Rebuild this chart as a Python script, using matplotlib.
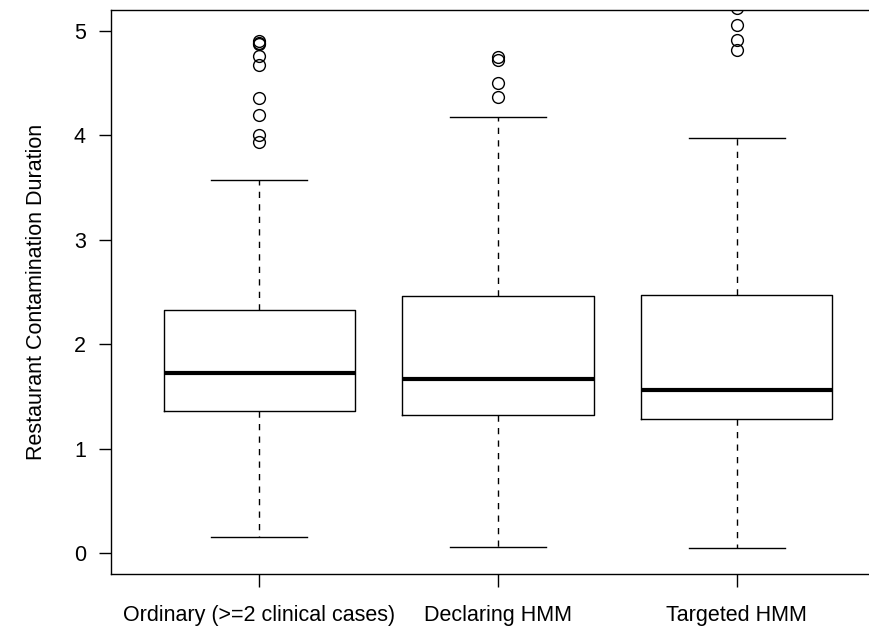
import matplotlib
matplotlib.use("Agg")
import matplotlib.pyplot as plt

plt.rcParams['font.family'] = ['Liberation Sans', 'DejaVu Sans']

groups = ["Ordinary (>=2 clinical cases)", "Declaring HMM", "Targeted HMM"]

# five-number summaries per group
whisker_lo = [0.15, 0.06, 0.05]
q1 = [1.36, 1.32, 1.28]
median = [1.72, 1.67, 1.56]
q3 = [2.33, 2.46, 2.47]
whisker_hi = [3.57, 4.18, 3.97]

outliers = [
    [4.90, 4.88, 4.87, 4.76, 4.67, 4.36, 4.19, 4.00, 3.94],
    [4.75, 4.72, 4.50, 4.37],
    [5.22, 5.06, 4.91, 4.82],
]

stats = []
for i, name in enumerate(groups):
    stats.append(dict(label=name, whislo=whisker_lo[i], q1=q1[i], med=median[i],
                      q3=q3[i], whishi=whisker_hi[i], fliers=outliers[i]))

fig = plt.figure(figsize=(8.7, 6.32), dpi=100)
W, H = 870, 632
left, right, top, bottom = 111, 885, 10, 574
ax = fig.add_axes([left / W, 1 - bottom / H, (right - left) / W, (bottom - top) / H])

ax.bxp(stats, positions=[1, 2, 3], widths=0.8, patch_artist=False,
       boxprops=dict(color='black', lw=1.0),
       medianprops=dict(color='black', lw=3.0, solid_capstyle='butt'),
       whiskerprops=dict(color='black', lw=1.0, linestyle=(0, (4.5, 4.5))),
       capprops=dict(color='black', lw=1.0), capwidths=0.4,
       flierprops=dict(marker='o', markerfacecolor='none', markeredgecolor='black',
                       markersize=8.5, markeredgewidth=1.0))

ax.set_xlim(0.38, 3.62)
ax.set_ylim(-0.2, 5.2)
ax.set_yticks([0, 1, 2, 3, 4, 5])
ax.set_xticks([1, 2, 3])
ax.set_xticklabels(groups)
ax.tick_params(axis='both', direction='out', length=9, width=1.0, labelsize=15.5,
               colors='black')
ax.tick_params(axis='x', pad=13)
ax.tick_params(axis='y', pad=9)
for s in ax.spines.values():
    s.set_linewidth(1.0)

ax.set_ylabel("Restaurant Contamination Duration", fontsize=15.5, labelpad=19)

fig.savefig("out.png", dpi=100)
